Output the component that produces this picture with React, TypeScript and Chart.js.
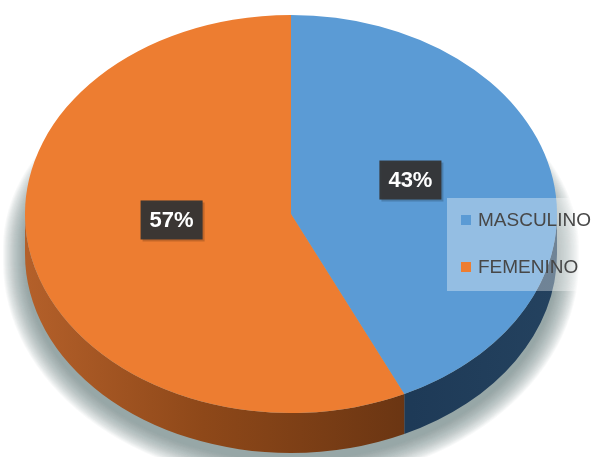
import React, { useEffect, useRef } from 'react';
import { Chart, registerables } from 'chart.js';

Chart.register(...registerables);

const categories = ['MASCULINO', 'FEMENINO'];
const values = [43, 57];
const topColors = ['#5b9bd5', '#ed7d31'];
const percentLabels = ['43%', '57%'];

const W = 603;
const H = 457;
// ellipse that the flat pie is mapped onto (3D tilt look)
const CX = 291;
const CY = 214;
const RX = 266;
const RY = 199;
const DEPTH = 40;
const LABEL_R = 0.46;
const LABEL_DY = -14;

function frontRanges(s: number, e: number): [number, number][] {
  const out: [number, number][] = [];
  for (const off of [-2 * Math.PI, 0, 2 * Math.PI]) {
    const a = Math.max(s, off);
    const b = Math.min(e, off + Math.PI);
    if (b > a) out.push([a, b]);
  }
  return out;
}

function sideStyle(ctx: CanvasRenderingContext2D, i: number) {
  if (i === 1) {
    const g = ctx.createLinearGradient(CX - RX, 0, CX + 130, 0);
    g.addColorStop(0, '#b4602a');
    g.addColorStop(0.45, '#8e4819');
    g.addColorStop(1, '#683412');
    return g;
  }
  const g = ctx.createLinearGradient(CX + 120, 0, CX + RX, 0);
  g.addColorStop(0, '#1e3a57');
  g.addColorStop(1, '#24425f');
  return g;
}

export default function App() {
  const ref = useRef<HTMLCanvasElement>(null);

  useEffect(() => {
    document.body.style.margin = '0';
    const canvas = ref.current!;

    const pie3d = {
      id: 'pie3d',
      beforeDatasetsDraw(chart: any) {
        const ctx: CanvasRenderingContext2D = chart.ctx;
        const meta = chart.getDatasetMeta(0);
        const arcs = meta.data as any[];
        // soft shadow around the disc, built from stacked translucent rings
        ctx.save();
        ctx.fillStyle = 'rgba(95,105,120,0.045)';
        for (let k = 22; k >= 0; k--) {
          ctx.beginPath();
          ctx.ellipse(CX, CY + 34, RX + k, RY - 24 + k, 0, Math.PI, 2 * Math.PI);
          ctx.ellipse(CX, CY + DEPTH + 8, RX + k, RY + k, 0, 0, Math.PI);
          ctx.closePath();
          ctx.fill();
        }
        ctx.restore();
        // sides
        arcs.forEach((arc, i) => {
          for (const [a, b] of frontRanges(arc.startAngle, arc.endAngle)) {
            ctx.beginPath();
            ctx.ellipse(CX, CY, RX, RY, 0, a, b, false);
            ctx.ellipse(CX, CY + DEPTH, RX, RY, 0, b, a, true);
            ctx.closePath();
            ctx.fillStyle = sideStyle(ctx, i);
            ctx.fill();
          }
        });
        // map the flat pie onto the ellipse
        const a0 = arcs[0];
        const R = a0.outerRadius;
        ctx.save();
        ctx.translate(CX, CY);
        ctx.scale(RX / R, RY / R);
        ctx.translate(-a0.x, -a0.y);
      },
      afterDatasetsDraw(chart: any) {
        const ctx: CanvasRenderingContext2D = chart.ctx;
        ctx.restore();
        const meta = chart.getDatasetMeta(0);
        const arcs = meta.data as any[];
        // data labels
        arcs.forEach((arc, i) => {
          const m = (arc.startAngle + arc.endAngle) / 2;
          const x = CX + LABEL_R * RX * Math.cos(m);
          const y = CY + LABEL_R * RY * Math.sin(m) + LABEL_DY;
          ctx.save();
          ctx.font = 'bold 22px "Liberation Sans", Arial, sans-serif';
          const tw = ctx.measureText(percentLabels[i]).width;
          const bw = tw + 18;
          const bh = 39;
          ctx.fillStyle = 'rgba(0,0,0,0.18)';
          ctx.fillRect(x - bw / 2 + 2, y - bh / 2 + 2, bw, bh);
          ctx.fillStyle = 'rgba(52,52,52,0.95)';
          ctx.fillRect(x - bw / 2, y - bh / 2, bw, bh);
          ctx.fillStyle = '#ffffff';
          ctx.textAlign = 'center';
          ctx.textBaseline = 'middle';
          ctx.fillText(percentLabels[i], x, y + 1);
          ctx.restore();
        });
        // legend
        ctx.save();
        ctx.fillStyle = 'rgba(255,255,255,0.35)';
        ctx.fillRect(447, 198, W - 447, 93);
        ctx.font = '19px "Liberation Sans", Arial, sans-serif';
        ctx.textBaseline = 'middle';
        categories.forEach((c, i) => {
          const yy = 220 + i * 47;
          ctx.fillStyle = topColors[i];
          ctx.fillRect(461, yy - 5, 10, 10);
          ctx.fillStyle = '#474747';
          ctx.fillText(c, 478, yy + 1);
        });
        ctx.restore();
      },
    };

    const chart = new Chart(canvas, {
      type: 'pie',
      data: {
        labels: categories,
        datasets: [
          {
            data: values,
            backgroundColor: topColors,
            borderWidth: 0,
            clip: false as any,
          },
        ],
      },
      options: {
        responsive: false,
        animation: false,
        layout: { padding: 0 },
        plugins: {
          legend: { display: false },
          tooltip: { enabled: false },
        },
      },
      plugins: [pie3d],
    });
    return () => chart.destroy();
  }, []);

  return (
    <div style={{ width: W, height: H, background: '#ffffff' }}>
      <canvas ref={ref} width={W} height={H} style={{ display: 'block' }} />
    </div>
  );
}
